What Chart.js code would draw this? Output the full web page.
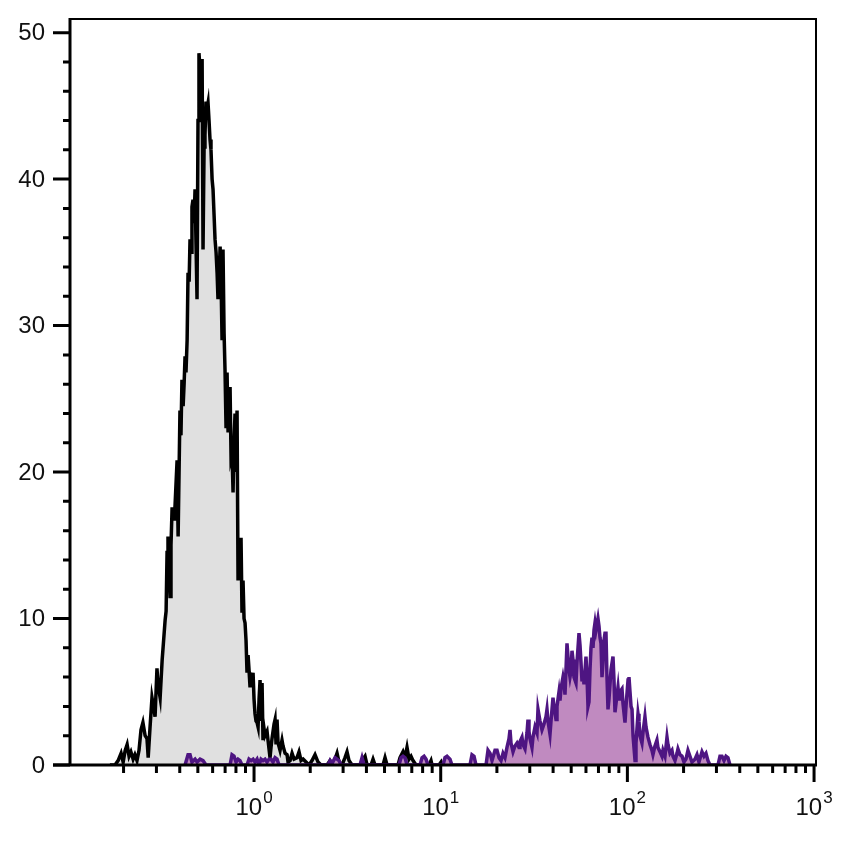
<!DOCTYPE html>
<html>
<head>
<meta charset="utf-8">
<script src="https://cdn.jsdelivr.net/npm/chart.js"></script>
<style>
  html, body { margin: 0; padding: 0; background: #fff; }
  #wrap { width: 851px; height: 844px; }
</style>
</head>
<body>
<div id="wrap"><canvas id="histChart" width="851" height="844"></canvas></div>
<script>
// Контроль (серый) — каналы и счёт
const grayX = [0.169, 0.180, 0.187, 0.194, 0.199, 0.204, 0.209, 0.214, 0.219, 0.225,
  0.230, 0.236, 0.242, 0.248, 0.254, 0.261, 0.267, 0.271, 0.277, 0.284,
  0.291, 0.295, 0.302, 0.306, 0.314, 0.322, 0.326, 0.334, 0.338, 0.342,
  0.346, 0.355, 0.359, 0.364, 0.373, 0.377, 0.387, 0.392, 0.401, 0.406,
  0.411, 0.417, 0.422, 0.427, 0.432, 0.438, 0.443, 0.449, 0.454, 0.460,
  0.465, 0.471, 0.477, 0.483, 0.489, 0.495, 0.501, 0.507, 0.514, 0.520,
  0.527, 0.533, 0.540, 0.546, 0.553, 0.560, 0.567, 0.574, 0.581, 0.588,
  0.596, 0.603, 0.611, 0.618, 0.626, 0.634, 0.641, 0.649, 0.658, 0.666,
  0.674, 0.682, 0.691, 0.699, 0.708, 0.717, 0.726, 0.735, 0.744, 0.753,
  0.762, 0.772, 0.781, 0.791, 0.801, 0.811, 0.821, 0.831, 0.841, 0.852,
  0.862, 0.873, 0.884, 0.895, 0.906, 0.917, 0.929, 0.940, 0.952, 0.964,
  0.976, 0.988, 1.000, 1.012, 1.025, 1.038, 1.051, 1.064, 1.077, 1.090,
  1.104, 1.117, 1.131, 1.145, 1.174, 1.188, 1.218, 1.233, 1.248, 1.280,
  1.296, 1.312, 1.328, 1.345, 1.378, 1.412, 1.430, 1.466, 1.503, 1.521,
  1.559, 1.598, 1.638, 1.700, 1.742, 1.786, 1.831, 1.899, 1.971, 2.045,
  2.122, 2.202, 2.285, 2.461, 2.554, 2.650, 2.716, 2.784, 2.853, 2.960,
  3.072, 3.149, 3.227, 3.350, 3.697, 3.836, 3.932, 4.031, 4.234, 4.340,
  4.448, 4.909, 5.032, 5.158, 5.905, 6.053, 6.281, 6.438, 6.599, 6.764,
  6.934, 7.107, 7.375, 7.843, 8.039, 8.342, 8.657, 8.873, 8.983, 9.792,
  10.04, 10.16, 11.21];
const grayY = [0, 0, 0.3, 0.8, 0.2, 1.0, 1.4, 0.6, 0.9, 0.4,
  0.7, 0.3, 1.0, 2.4, 2.9, 2.0, 1.8, 0.5, 2.5, 4.6,
  3.8, 3.3, 6.6, 5.5, 4.6, 7.2, 8.1, 9.9, 10.5, 14.5,
  15.6, 11.5, 15.0, 17.6, 16.8, 17.6, 20.8, 15.6, 24.2, 22.5,
  26.3, 24.5, 26.0, 27.9, 26.8, 29.0, 33.6, 33.0, 35.9, 35.0,
  38.1, 38.6, 37.0, 39.3, 35.5, 31.8, 44.0, 48.6, 47.5, 44.0,
  48.2, 35.2, 42.2, 43.0, 45.3, 44.8, 45.2, 44.0, 42.7, 42.0,
  40.0, 39.3, 37.5, 35.9, 35.0, 33.6, 31.8, 33.0, 35.4, 33.0,
  29.0, 35.2, 29.5, 27.0, 23.0, 26.8, 22.7, 24.0, 25.8, 21.0,
  21.3, 18.6, 22.0, 24.0, 20.0, 24.2, 12.6, 15.0, 15.4, 15.4,
  10.4, 12.6, 10.0, 9.7, 8.5, 6.3, 7.5, 6.5, 5.3, 6.0,
  5.8, 6.3, 4.5, 3.5, 3.0, 2.9, 2.6, 4.5, 5.8, 3.0,
  5.6, 1.7, 2.5, 2.0, 2.3, 1.7, 0.5, 1.2, 1.8, 2.8,
  3.1, 1.4, 3.1, 1.5, 1.0, 1.7, 1.3, 0.8, 0.7, 0.2,
  0.3, 0.8, 0.4, 0.5, 0.9, 0.3, 0.4, 0.2, 0, 0.3,
  0.7, 0.2, 0, 0, 0.3, 0, 0.4, 0.8, 0.2, 0,
  0.5, 0.9, 0.3, 0, 0, 0.4, 0.6, 0, 0, 0.4,
  0, 0, 0.5, 0, 0, 0.5, 0.9, 0.5, 1.2, 0.4,
  0.6, 0.3, 0, 0, 0.3, 0, 0, 0.3, 0, 0,
  0.2, 0, 0];

// Окрашенный образец (фиолетовый)
const purpleX = [0.427, 0.443, 0.454, 0.465, 0.483, 0.495, 0.514, 0.533, 0.553, 0.744,
  0.762, 0.781, 0.801, 0.821, 0.841, 0.862, 0.917, 0.940, 0.964, 0.988,
  1.012, 1.038, 1.064, 1.090, 1.117, 1.145, 1.174, 1.203, 1.233, 1.264,
  1.296, 1.328, 1.361, 2.492, 2.554, 2.618, 2.716, 2.784, 2.853, 2.924,
  3.697, 3.789, 3.884, 5.979, 6.128, 6.281, 6.438, 6.599, 7.747, 7.941,
  8.139, 8.342, 8.550, 10.29, 10.54, 10.81, 11.21, 11.49, 14.35, 14.71,
  15.08, 15.45, 17.49, 17.92, 18.37, 18.83, 19.54, 20.03, 20.53, 21.04,
  21.56, 22.10, 22.65, 23.22, 23.51, 23.80, 24.40, 25.00, 25.63, 26.27,
  26.59, 27.25, 27.59, 28.28, 28.99, 29.35, 29.71, 30.08, 30.83, 31.21,
  31.99, 32.79, 33.20, 34.03, 34.88, 35.75, 36.64, 37.10, 37.56, 38.50,
  38.98, 39.95, 40.45, 41.46, 41.97, 43.02, 43.55, 44.09, 45.19, 45.75,
  46.32, 46.89, 47.48, 48.07, 48.66, 49.27, 49.88, 50.50, 51.13, 51.76,
  53.05, 53.71, 54.38, 55.05, 55.74, 56.43, 57.13, 57.84, 58.56, 60.02,
  60.77, 61.52, 62.28, 63.05, 63.83, 64.63, 65.43, 66.24, 67.06, 67.89,
  68.74, 69.59, 70.45, 71.33, 72.21, 73.11, 74.02, 74.94, 75.87, 76.81,
  77.76, 78.73, 79.70, 80.70, 81.70, 83.74, 84.78, 85.83, 86.90, 89.07,
  90.18, 91.29, 93.57, 94.73, 97.10, 98.30, 100.8, 102.0, 103.3, 104.6,
  105.9, 107.2, 109.9, 111.2, 114.0, 115.4, 116.8, 119.7, 121.2, 124.2,
  125.8, 128.9, 132.1, 135.4, 137.1, 140.5, 144.0, 145.8, 149.5, 153.2,
  155.1, 159.0, 163.0, 165.0, 169.1, 173.3, 175.5, 179.9, 184.4, 186.6,
  191.3, 196.1, 201.0, 206.0, 211.1, 216.4, 221.8, 230.2, 235.9, 241.8,
  251.0, 257.3, 263.7, 270.3, 277.0, 305.8, 313.4, 321.2, 329.3, 337.5,
  345.9, 354.4];
const purpleY = [0, 0.7, 0.7, 0.2, 0.4, 0.2, 0.4, 0.3, 0, 0,
  0.7, 0.6, 0.2, 0.4, 0.3, 0, 0, 0.4, 0.3, 0.4,
  0.2, 0.4, 0, 0.4, 0.3, 0.4, 0.2, 0.4, 0.4, 0.2,
  0.5, 0.4, 0, 0, 0.3, 0.1, 0.5, 0.4, 0.3, 0,
  0, 0.5, 0, 0, 0.5, 0.6, 0.5, 0, 0, 0.5,
  0.6, 0.4, 0, 0, 0.5, 0.6, 0.4, 0, 0, 0.7,
  0.6, 0, 0, 1.0, 0.8, 0.3, 1.0, 1.0, 0.5, 0.3,
  0.8, 0.5, 1.2, 1.8, 2.4, 1.5, 0.9, 1.3, 1.5, 1.2,
  1.6, 1.9, 1.4, 1.1, 2.2, 3.1, 2.3, 1.8, 1.2, 1.9,
  2.6, 2.2, 3.8, 3.0, 2.4, 2.8, 3.3, 3.8, 3.0, 2.1,
  3.0, 4.6, 4.0, 3.1, 4.0, 5.0, 4.4, 5.2, 6.0, 5.6,
  4.8, 6.5, 8.3, 7.4, 6.5, 6.0, 6.4, 7.8, 7.2, 6.0,
  5.6, 7.0, 8.0, 9.0, 8.2, 7.0, 5.7, 6.3, 5.5, 7.4,
  6.0, 4.0, 4.3, 6.5, 8.0, 8.7, 8.0, 9.2, 9.7, 9.2,
  9.6, 10.0, 9.5, 8.7, 8.3, 6.0, 7.0, 8.5, 9.0, 9.0,
  6.0, 3.8, 4.5, 5.5, 6.5, 7.4, 5.8, 3.6, 4.2, 5.3,
  4.5, 5.0, 5.2, 4.2, 2.9, 4.0, 5.8, 6.0, 5.0, 4.0,
  3.8, 2.0, 0.3, 1.5, 3.5, 3.0, 2.0, 1.5, 2.2, 3.3,
  2.6, 1.9, 1.4, 1.0, 0.7, 1.3, 1.7, 1.2, 0.9, 0.6,
  1.0, 0.6, 1.9, 1.4, 0.8, 1.0, 0.6, 0.3, 0.8, 1.1,
  0.7, 0.6, 0.2, 0.4, 1.0, 0.6, 0.2, 0.4, 0.7, 0.2,
  0.9, 0.6, 0.8, 0.3, 0, 0, 0.6, 0.6, 0.3, 0.6,
  0.5, 0];

// Деления осей
const xTickValues = [0.2, 0.3, 0.4, 0.5, 0.6, 0.7, 0.8, 0.9, 1,
  2, 3, 4, 5, 6, 7, 8, 9, 10,
  20, 30, 40, 50, 60, 70, 80, 90, 100,
  200, 300, 400, 500, 600, 700, 800, 900, 1000];
const xMajorValues = [1, 10, 100, 1000];
const xMajorExponents = ['0', '1', '2', '3'];
const yTickValues = [0, 2, 4, 6, 8, 10, 12, 14, 16, 18, 20, 22, 24, 26, 28, 30,
  32, 34, 36, 38, 40, 42, 44, 46, 48, 50];
const yLabelValues = [0, 10, 20, 30, 40, 50];

const FONT = '"Liberation Sans", Arial, sans-serif';

// Оси, деления и подписи рисуем поверх гистограмм
const axesPlugin = {
    id: 'axesPlugin',
    afterDatasetsDraw(chart) {
        const ctx = chart.ctx;
        const area = chart.chartArea;
        const xs = chart.scales.x;
        const ys = chart.scales.y;
        ctx.save();
        ctx.strokeStyle = '#000';
        ctx.lineCap = 'butt';

        // верхняя и правая рамка
        ctx.lineWidth = 2;
        ctx.beginPath();
        ctx.moveTo(area.left, area.top + 1);
        ctx.lineTo(area.right, area.top + 1);
        ctx.moveTo(area.right - 1, area.top);
        ctx.lineTo(area.right - 1, area.bottom);
        ctx.stroke();

        // основные оси
        ctx.lineWidth = 3;
        ctx.beginPath();
        ctx.moveTo(area.left, area.top);
        ctx.lineTo(area.left, area.bottom + 1.5);
        ctx.moveTo(area.left - 17, area.bottom);
        ctx.lineTo(area.right, area.bottom);
        ctx.stroke();

        // деления Y
        ctx.beginPath();
        ys.ticks.forEach(t => {
            const py = ys.getPixelForValue(t.value);
            const len = yLabelValues.includes(t.value) ? 17 : 7;
            ctx.moveTo(area.left - len, py);
            ctx.lineTo(area.left, py);
        });
        ctx.stroke();

        // деления X
        ctx.beginPath();
        xs.ticks.forEach(t => {
            const px = xs.getPixelForValue(t.value);
            const len = xMajorValues.includes(t.value) ? 17 : 8;
            ctx.moveTo(px, area.bottom);
            ctx.lineTo(px, area.bottom + len);
        });
        ctx.stroke();

        ctx.fillStyle = '#111';

        // подписи Y
        ctx.font = '24px ' + FONT;
        ctx.textAlign = 'right';
        ctx.textBaseline = 'middle';
        yLabelValues.forEach(v => {
            ctx.fillText(String(v), area.left - 25, ys.getPixelForValue(v) + 1);
        });

        // подписи X: 10 со степенью
        ctx.textBaseline = 'alphabetic';
        ctx.textAlign = 'left';
        xMajorValues.forEach((v, i) => {
            const px = xs.getPixelForValue(v);
            ctx.font = '24px ' + FONT;
            const w1 = ctx.measureText('10').width;
            ctx.font = '17px ' + FONT;
            const w2 = ctx.measureText(xMajorExponents[i]).width;
            const start = px - (w1 + 1 + w2) / 2;
            ctx.font = '24px ' + FONT;
            ctx.fillText('10', start, 815);
            ctx.font = '17px ' + FONT;
            ctx.fillText(xMajorExponents[i], start + w1 + 1, 803);
        });
        ctx.restore();
    }
};

function createHistogram() {
    const ctx = document.getElementById('histChart');
    new Chart(ctx, {
        type: 'line',
        data: {
            datasets: [{
                label: 'stained',
                data: purpleX.map((x, i) => ({x: x, y: purpleY[i]})),
                borderColor: '#4e1582',
                backgroundColor: '#c08ac0',
                borderWidth: 3.5,
                pointRadius: 0,
                tension: 0,
                fill: 'origin'
            }, {
                label: 'control',
                data: grayX.map((x, i) => ({x: x, y: grayY[i]})),
                borderColor: '#000000',
                backgroundColor: '#e0e0e0',
                borderWidth: 3.5,
                pointRadius: 0,
                tension: 0,
                fill: 'origin'
            }]
        },
        options: {
            responsive: false,
            animation: false,
            layout: { padding: { top: 18, right: 34, left: 0, bottom: 0 } },
            plugins: {
                legend: { display: false },
                tooltip: { enabled: false }
            },
            scales: {
                x: {
                    type: 'logarithmic',
                    min: 0.1033,
                    max: 1037,
                    grid: { display: false, drawTicks: false },
                    border: { display: false },
                    ticks: { display: false },
                    afterBuildTicks: scale => {
                        scale.ticks = xTickValues.map(v => ({value: v, major: xMajorValues.includes(v)}));
                    },
                    afterFit: scale => { scale.height = 79; }
                },
                y: {
                    type: 'linear',
                    min: 0,
                    max: 51,
                    grid: { display: false, drawTicks: false },
                    border: { display: false },
                    ticks: { display: false },
                    afterBuildTicks: scale => {
                        scale.ticks = yTickValues.map(v => ({value: v}));
                    },
                    afterFit: scale => { scale.width = 70; }
                }
            }
        },
        plugins: [axesPlugin]
    });
}

createHistogram();
</script>
</body>
</html>
